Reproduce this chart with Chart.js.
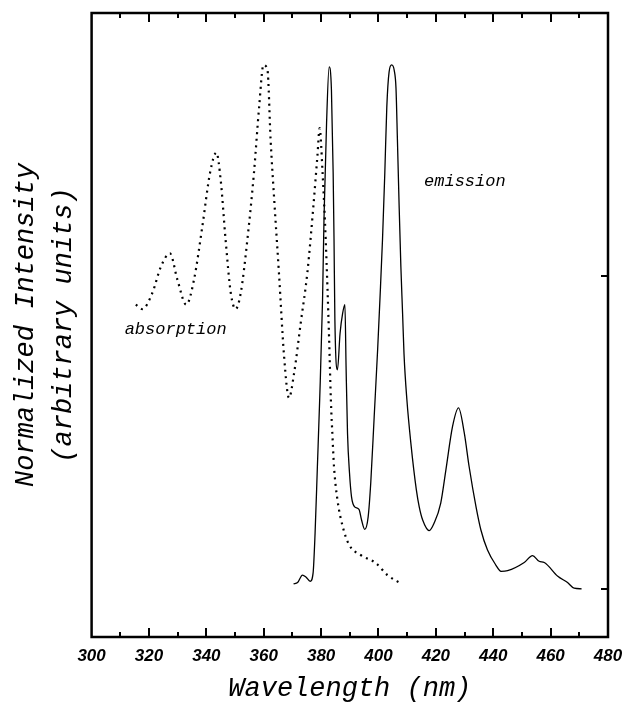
<!DOCTYPE html>
<html>
<head>
<meta charset="utf-8">
<script src="https://cdn.jsdelivr.net/npm/chart.js@4.4.1/dist/chart.umd.min.js"></script>
<style>
  html, body { margin: 0; padding: 0; background: #fff; }
  #wrap { width: 627px; height: 703px; }
</style>
</head>
<body>
<div id="wrap"><canvas id="c" width="627" height="703"></canvas></div>
<script>
// ---- data ----
const absWavelength = [315.4, 317.7, 321.2, 324.1, 327.3, 329.9, 333.0, 335.7, 338.6, 341.3, 343.5, 345.0, 346.7, 348.5, 350.2, 352.0, 354.3, 356.6, 358.4, 359.9, 361.3, 362.4, 363.8, 365.3, 367.1, 368.8, 370.6, 372.9, 375.2, 377.3, 378.7, 379.5, 380.5, 381.6, 382.8, 383.4, 384.0, 384.5, 385.7, 387.5, 389.8, 393.8, 399.1, 403.1, 408.0];
const absorption    = [0.454, 0.447, 0.473, 0.514, 0.536, 0.494, 0.454, 0.494, 0.579, 0.665, 0.697, 0.653, 0.558, 0.473, 0.447, 0.473, 0.558, 0.665, 0.770, 0.837, 0.829, 0.717, 0.611, 0.505, 0.371, 0.305, 0.345, 0.425, 0.505, 0.611, 0.691, 0.736, 0.665, 0.558, 0.398, 0.302, 0.240, 0.195, 0.142, 0.100, 0.070, 0.054, 0.041, 0.022, 0.008];

const emWavelength = [370.4, 371.8, 373.5, 374.7, 376.2, 377.2, 377.9, 378.7, 379.5, 380.5, 381.0, 381.9, 382.8, 383.6, 384.2, 384.5, 384.8, 385.7, 386.6, 387.5, 388.3, 388.7, 389.2, 389.9, 390.6, 391.7, 393.2, 394.1, 395.2, 396.4, 397.3, 398.5, 399.7, 400.5, 401.4, 402.2, 402.9, 403.7, 404.6, 405.5, 406.1, 406.6, 407.2, 407.8, 408.4, 408.9, 409.9, 411.3, 413.2, 414.2, 415.4, 417.7, 419.4, 421.7, 423.5, 425.8, 427.9, 429.9, 431.6, 434.0, 435.7, 438.0, 440.9, 442.7, 445.0, 450.8, 453.7, 456.0, 457.8, 462.5, 465.9, 468.2, 470.8];
const emission     = [0.008, 0.010, 0.022, 0.019, 0.012, 0.025, 0.089, 0.195, 0.302, 0.462, 0.590, 0.744, 0.834, 0.797, 0.664, 0.558, 0.430, 0.350, 0.408, 0.440, 0.454, 0.355, 0.249, 0.185, 0.147, 0.131, 0.127, 0.110, 0.095, 0.115, 0.169, 0.275, 0.382, 0.462, 0.558, 0.664, 0.770, 0.826, 0.837, 0.828, 0.800, 0.717, 0.611, 0.515, 0.440, 0.375, 0.302, 0.232, 0.158, 0.131, 0.110, 0.093, 0.105, 0.137, 0.190, 0.259, 0.289, 0.249, 0.195, 0.131, 0.094, 0.062, 0.038, 0.028, 0.029, 0.042, 0.053, 0.044, 0.042, 0.020, 0.010, 0.001, 0.000];

const xTickValues = [300, 320, 340, 360, 380, 400, 420, 440, 460, 480];
const rightTickValues = [0, 0.5];
const xTitle = "Wavelength (nm)";
const yTitle = ["Normalized Intensity", "(arbitrary units)"];
const curveLabels = ["emission", "absorption"];

const toXY = (xs, ys) => xs.map((v, i) => ({ x: v, y: ys[i] }));

const framePlugin = {
  id: 'frame',
  afterDraw(chart) {
    const { ctx, chartArea: { left, right, top, bottom }, scales: { x, y } } = chart;
    ctx.save();
    ctx.strokeStyle = '#000';
    ctx.lineWidth = 2.5;
    ctx.strokeRect(left, top, right - left, bottom - top);
    ctx.lineWidth = 2;
    ctx.beginPath();
    x.ticks.forEach(t => {
      if (t.value <= x.min || t.value >= x.max) return;
      const px = Math.round(x.getPixelForValue(t.value));
      const len = xTickValues.includes(t.value) ? 9 : 5;
      ctx.moveTo(px, bottom); ctx.lineTo(px, bottom - len);
      ctx.moveTo(px, top); ctx.lineTo(px, top + len);
    });
    rightTickValues.forEach(v => {
      const py = Math.round(y.getPixelForValue(v));
      ctx.moveTo(right, py); ctx.lineTo(right - 7, py);
    });
    ctx.stroke();
    // curve labels
    ctx.fillStyle = '#000';
    ctx.font = 'italic 17px "Liberation Mono", "Courier New", monospace';
    ctx.textAlign = 'center';
    ctx.textBaseline = 'middle';
    ctx.fillText(curveLabels[0], x.getPixelForValue(430.1), y.getPixelForValue(0.650));
    ctx.fillText(curveLabels[1], x.getPixelForValue(329.3), y.getPixelForValue(0.414));
    ctx.restore();
  }
};

new Chart(document.getElementById('c'), {
  type: 'scatter',
  data: {
    datasets: [
      {
        label: 'absorption',
        data: toXY(absWavelength, absorption),
        showLine: true,
        borderColor: '#000',
        borderWidth: 2.2,
        borderDash: [2, 4.5],
        pointRadius: 0,
        cubicInterpolationMode: 'monotone',
        fill: false
      },
      {
        label: 'emission',
        data: toXY(emWavelength, emission),
        showLine: true,
        borderColor: '#000',
        borderWidth: 1.3,
        pointRadius: 0,
        cubicInterpolationMode: 'monotone',
        fill: false
      }
    ]
  },
  options: {
    responsive: false,
    devicePixelRatio: 1,
    animation: false,
    layout: { padding: { left: 1, right: 19, top: 13, bottom: 0 } },
    plugins: { legend: { display: false }, tooltip: { enabled: false } },
    scales: {
      x: {
        type: 'linear',
        min: 300, max: 480,
        grid: { display: false, drawTicks: false },
        border: { display: false },
        afterFit: (s) => { s.height = 66; s.paddingLeft = 0; s.paddingRight = 0; },
        ticks: {
          stepSize: 10,
          autoSkip: false,
          maxRotation: 0,
          padding: 11,
          color: '#000',
          font: { family: '"Liberation Sans", Arial, sans-serif', size: 17, style: 'italic', weight: 'bold', lineHeight: 1.0 },
          callback: (v) => xTickValues.includes(v) ? String(v) : ''
        },
        title: {
          display: true,
          text: xTitle,
          color: '#000',
          padding: { top: 9, bottom: 1 },
          font: { family: '"Liberation Mono", "Courier New", monospace', size: 27, style: 'italic', lineHeight: 1.0 }
        }
      },
      y: {
        type: 'linear',
        min: -0.077, max: 0.92,
        grid: { display: false, drawTicks: false },
        border: { display: false },
        ticks: { display: false },
        title: {
          display: true,
          text: yTitle,
          color: '#000',
          padding: { top: 6, bottom: 9 },
          font: { family: '"Liberation Mono", "Courier New", monospace', size: 27, style: 'italic', lineHeight: 1.4 }
        }
      }
    }
  },
  plugins: [framePlugin]
});
</script>
</body>
</html>
